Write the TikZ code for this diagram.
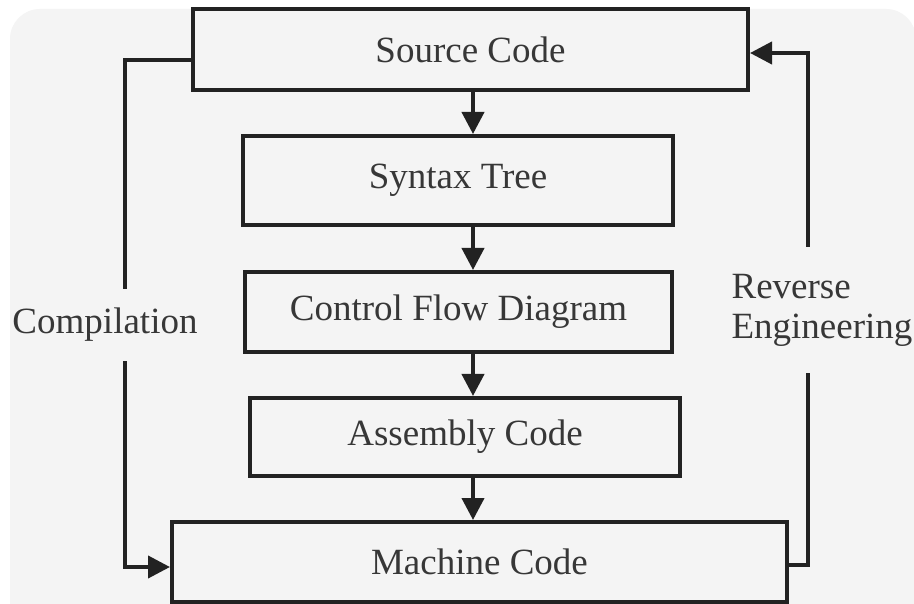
\documentclass[tikz,border=0pt]{standalone}
\usepackage{fontspec}
\setmainfont{Liberation Serif}
\usetikzlibrary{arrows.meta}
\definecolor{bg}{RGB}{244,244,244}
\definecolor{ln}{RGB}{34,34,34}
\definecolor{tx}{RGB}{55,55,55}
\begin{document}
\begin{tikzpicture}[x=1pt,y=-1pt,
  box/.style={draw=ln,line width=4pt,fill=bg,rectangle,inner sep=0pt,text=tx,
    font=\fontsize{37}{40}\selectfont},
  conn/.style={draw=ln,line width=4pt},
  arr/.style={conn,-{Triangle[length=22pt,width=22pt]}},
  lbl/.style={fill=bg,text=tx,inner xsep=0pt,font=\fontsize{37}{40}\selectfont}]
\useasboundingbox (0,0) rectangle (914,604);
\fill[white] (0,0) rectangle (914,604);
\fill[bg,rounded corners=30pt] (10,9) rectangle (916,640);
% boxes
\node[box,minimum width=555pt,minimum height=81pt] (src) at (470.5,49.5) {Source Code};
\node[box,minimum width=430pt,minimum height=89pt] (syn) at (458,180.5) {Syntax Tree};
\node[box,minimum width=427pt,minimum height=80pt] (cfd) at (458.5,312) {Control Flow Diagram};
\node[box,minimum width=430pt,minimum height=78pt] (asm) at (465,437) {Assembly Code};
\node[box,minimum width=615pt,minimum height=80pt] (mac) at (479.5,562) {Machine Code};
% vertical arrows
\coordinate (ax) at (473,0);
\draw[arr] (src.south -| ax) -- (syn.north -| ax);
\draw[arr] (syn.south -| ax) -- (cfd.north -| ax);
\draw[arr] (cfd.south -| ax) -- (asm.north -| ax);
\draw[arr] (asm.south -| ax) -- (mac.north -| ax);
% side loops
\coordinate (lt) at (125,60);
\coordinate (lb) at (125,567);
\draw[arr] (src.west |- lt) -- (lt) -- (lb) -- (mac.west |- lb);
\coordinate (rb) at (808,565);
\coordinate (rt) at (808,53);
\draw[arr] (mac.east |- rb) -- (rb) -- (rt) -- (src.east |- rt);
% labels
\node[lbl,minimum height=72pt] (comp) at (105,325) {Compilation};
\node[lbl,minimum height=126pt,align=left] (rev) at (822,310) {Reverse\\Engineering};
\end{tikzpicture}
\end{document}
